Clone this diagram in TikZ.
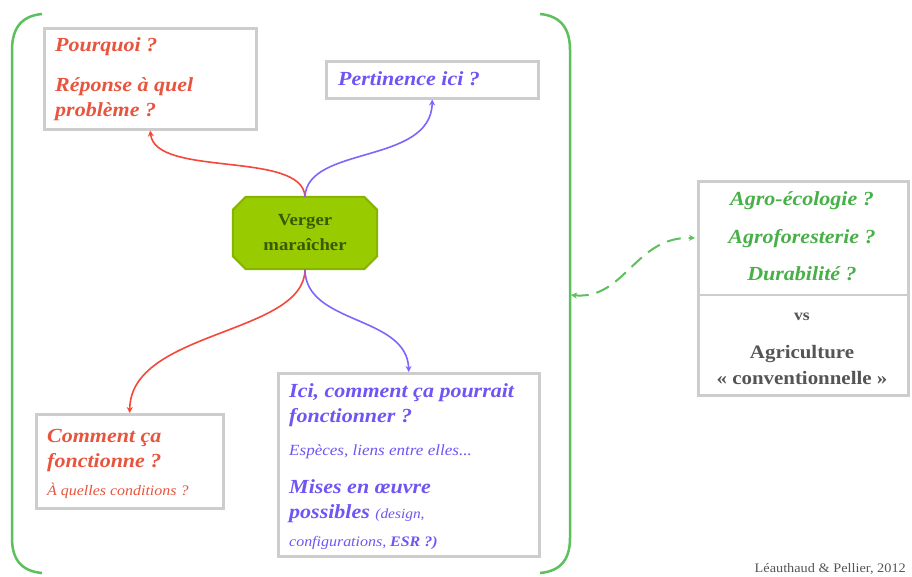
\documentclass[tikz,border=0pt]{standalone}
\usepackage{fontspec}
\setmainfont{Liberation Serif}[FakeStretch=1.1]
\usetikzlibrary{arrows.meta}
\definecolor{myred}{HTML}{F5483A}
\definecolor{redtext}{HTML}{E8553F}
\definecolor{myblue}{HTML}{7B66FF}
\definecolor{bluetext}{HTML}{6E55F5}
\definecolor{mygreen}{HTML}{5CC05C}
\definecolor{greentext}{HTML}{48B048}
\definecolor{limefill}{HTML}{99CC00}
\definecolor{limedraw}{HTML}{88B400}
\definecolor{darkgreen}{HTML}{3B5800}
\definecolor{boxgray}{HTML}{CDCDCD}
\definecolor{graytext}{HTML}{555555}
\begin{document}
\begin{tikzpicture}[x=1pt,y=-1pt,
  box/.style={draw=boxgray, line width=2.5pt, fill=white, inner sep=0pt, anchor=north west},
  big/.style={inner sep=0pt, anchor=base west, font=\fontsize{20}{24}\selectfont\bfseries\itshape},
  bigc/.style={inner sep=0pt, anchor=base, font=\fontsize{20}{24}\selectfont\bfseries\itshape},
  small/.style={inner sep=0pt, anchor=base west, font=\fontsize{15.5}{18}\selectfont\itshape},
  conn/.style={line width=1.6pt, -{Stealth[length=6pt,width=6pt]}},
  bracket/.style={draw=mygreen, line width=2.5pt}
]
\useasboundingbox (0,0) rectangle (912,576);
\fill[white] (0,0) rectangle (912,576);

% brackets
\draw[bracket] (42,14) .. controls (20,16) and (12,30) .. (12,50) -- (12,538) .. controls (12,558) and (20,571) .. (42,573);
\draw[bracket] (540,14) .. controls (562,16) and (570,30) .. (570,50) -- (570,538) .. controls (570,558) and (562,571) .. (540,573);
\coordinate (br) at (571,295);

% boxes
\node[box, minimum width=212pt, minimum height=101pt] (b1) at (43,27) {};
\node[box, minimum width=212pt, minimum height=37pt] (b2) at (325,60) {};
\node[box, minimum width=261pt, minimum height=183pt] (b4) at (277,372) {};
\node[box, minimum width=187pt, minimum height=94pt] (b5) at (35,413) {};
\node[box, minimum width=210pt, minimum height=214pt] (b6) at (697,180) {};
\draw[draw=boxgray, line width=2.5pt] (b6.west |- 0,295) coordinate (d1) -- (b6.east |- 0,295) coordinate (d2);

% centre (octagon)
\node[inner sep=0pt, minimum width=144pt, minimum height=72pt] (c) at (305,233) {};
\draw[draw=limedraw, line width=2pt, fill=limefill]
  ([xshift=13pt]c.north west) -- ([xshift=-13pt]c.north east) -- ([yshift=-13pt]c.north east)
  -- ([yshift=13pt]c.south east) -- ([xshift=-13pt]c.south east) -- ([xshift=13pt]c.south west)
  -- ([yshift=13pt]c.south west) -- ([yshift=-13pt]c.north west) -- cycle;
\node[bigc, font=\fontsize{17}{20}\selectfont\bfseries, text=darkgreen] (c1) at (305,225) {Verger};
\node[bigc, font=\fontsize{17}{20}\selectfont\bfseries, text=darkgreen] (c2) at (305,250) {maraîcher};

% box 1 text
\node[big, text=redtext] (t11) at (55,51) {Pourquoi ?};
\node[big, text=redtext] (t12) at (55,91) {Réponse à quel};
\node[big, text=redtext] (t13) at (55,116) {problème ?};

% box 2 text
\node[big, text=bluetext] (t21) at (338,85) {Pertinence ici ?};

% box 4 text
\node[big, text=bluetext] (t41) at (289,397) {Ici, comment ça pourrait};
\node[big, text=bluetext] (t42) at (289,422) {fonctionner ?};
\node[small, text=bluetext] (t43) at (289,455) {Espèces, liens entre elles...};
\node[big, text=bluetext] (t44) at (289,493) {Mises en œuvre};
\node[big, text=bluetext] (t45) at (289,518) {possibles \fontsize{14}{17}\selectfont\mdseries(design,};
\node[small, font=\fontsize{14.5}{17}\selectfont\itshape, text=bluetext] (t46) at (289,546) {configurations, \bfseries ESR ?)};

% box 5 text
\node[big, text=redtext] (t51) at (47,442) {Comment ça};
\node[big, text=redtext] (t52) at (47,467) {fonctionne ?};
\node[small, font=\fontsize{14.5}{17}\selectfont\itshape, text=redtext] (t53) at (47,495) {À quelles conditions ?};

% right box text
\node[bigc, text=greentext] (r1) at (802,205) {Agro-écologie ?};
\node[bigc, text=greentext] (r2) at (802,243) {Agroforesterie ?};
\node[bigc, text=greentext] (r3) at (802,280) {Durabilité ?};
\node[bigc, font=\fontsize{16}{18}\selectfont\bfseries, text=graytext] (r4) at (802,320) {vs};
\node[bigc, font=\fontsize{19}{22}\selectfont\bfseries, text=graytext] (r5) at (802,358) {Agriculture};
\node[bigc, font=\fontsize{19}{22}\selectfont\bfseries, text=graytext] (r6) at (802,384) {« conventionnelle »};

% credit
\node[inner sep=0pt, anchor=base east, font=\fontsize{13}{14}\selectfont, text=graytext] (cr) at (906,572) {Léauthaud \& Pellier, 2012};

% connectors
\draw[conn, myred] (c.north) .. controls (303,150) and (155,178) .. (b1.south);
\draw[conn, myblue] (c.north) .. controls (307,145) and (431,165) .. (b2.south);
\draw[conn, myred] (c.south) .. controls (305,335) and (130,330) .. (b5.north);
\draw[conn, myblue] (c.south) .. controls (305,325) and (407,315) .. (b4.north);

\coordinate (rin) at (695,238);
\draw[mygreen, line width=2pt, dash pattern=on 14pt off 8pt, {Stealth[length=6pt,width=6pt]}-{Stealth[length=6pt,width=6pt]}]
  (br) .. controls (625,300) and (635,236) .. (rin);
\end{tikzpicture}
\end{document}
